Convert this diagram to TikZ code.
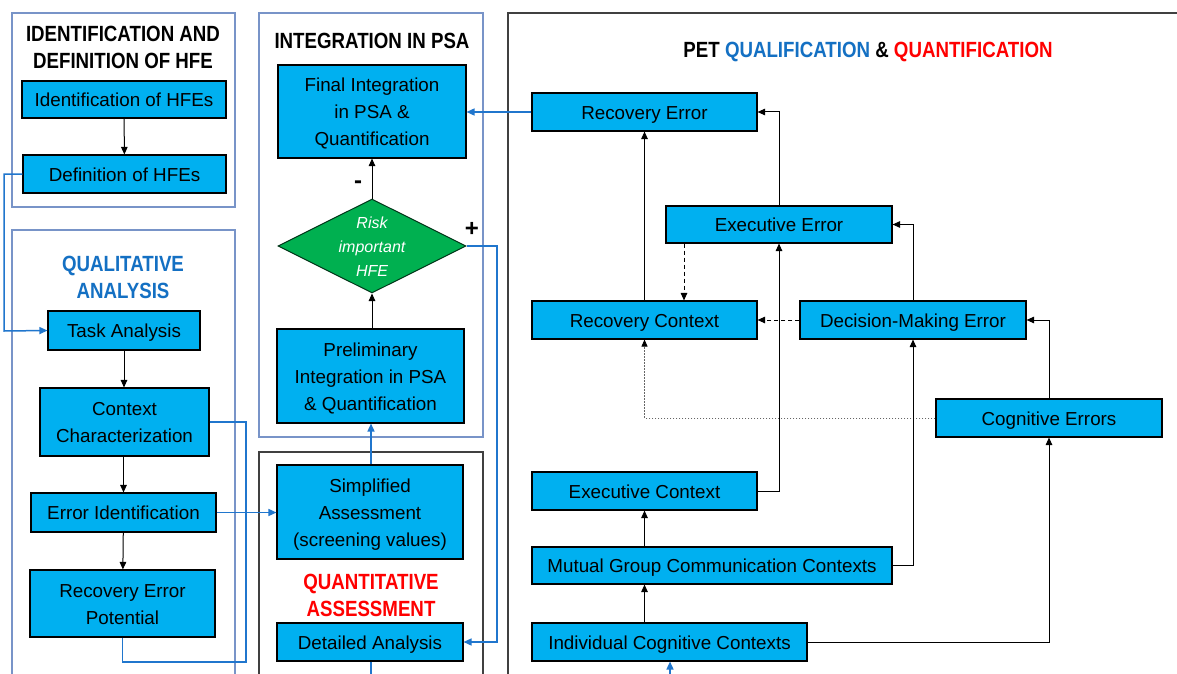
\documentclass[tikz,border=0pt]{standalone}
\usepackage{fontspec}
\setmainfont{Liberation Sans}
\newfontfamily\headfont{Liberation Sans}[FakeStretch=0.85]
\usetikzlibrary{shapes.geometric,arrows.meta}
\definecolor{boxfill}{RGB}{0,176,240}
\definecolor{framelight}{RGB}{120,148,200}
\definecolor{framedark}{RGB}{64,64,64}
\definecolor{linkblue}{RGB}{32,118,205}
\definecolor{headblue}{RGB}{20,112,195}
\definecolor{headred}{RGB}{255,0,0}
\definecolor{decgreen}{RGB}{0,176,80}
% centred block of lines, drawn slightly below its nominal position
\newcommand\tx[1]{\raisebox{-1.8pt}[\height][\depth]{\begin{tabular}{@{}c@{}}#1\end{tabular}}}
\begin{document}
\begin{tikzpicture}[x=1pt,y=-1pt,
  stepbox/.style={draw=black,line width=1.1pt,fill=boxfill,inner sep=0pt,
    font=\fontsize{18.8}{27.2}\selectfont},
  lightframe/.style={draw=framelight,line width=1.5pt},
  darkframe/.style={draw=framedark,line width=1.5pt},
  heading/.style={align=center,font=\headfont\bfseries\fontsize{22}{27}\selectfont},
  flow/.style={draw=black,line width=1pt,-{Triangle[length=7.5pt,width=6.5pt]}},
  bluelink/.style={draw=linkblue,line width=1.5pt},
  bluearrow/.style={bluelink,-{Triangle[length=8pt,width=7pt]}},
  dashflow/.style={flow,dash pattern=on 4pt off 3pt},
  dotflow/.style={draw=black!60,line width=0.8pt,dash pattern=on 1.5pt off 1.5pt,
    -{Triangle[length=7pt,width=6pt,fill=black,color=black]}},
  sign/.style={font=\bfseries\fontsize{24}{24}\selectfont}]
\useasboundingbox (0,0) rectangle (1177,674);
\clip (0,0) rectangle (1177,674);
\fill[white] (0,0) rectangle (1177,674);

% group frames
\draw[lightframe] (12,13) rectangle (235,207);
\draw[lightframe] (12,230) rectangle (235,720);
\draw[lightframe] (259,13) rectangle (483,437);
\draw[darkframe] (259,452) rectangle (483,720);
\draw[darkframe] (508,720) -- (508,13) -- (1190,13);

% headings
\node[heading] (hid) at (123,47) {IDENTIFICATION AND\\DEFINITION OF HFE};
\node[heading,text=headblue] (hqual) at (123,277) {QUALITATIVE\\ANALYSIS};
\node[heading] (hint) at (372,41) {INTEGRATION IN PSA};
\node[heading,text=headred] (hquant) at (371,595) {QUANTITATIVE\\ASSESSMENT};
\node[heading] (hpet) at (868,51.5) {PET {\color{headblue}QUALIFICATION} \& {\color{headred}QUANTIFICATION}};

% identification and definition
\node[stepbox,minimum width=204pt,minimum height=37pt] (idh) at (124,99.5) {\tx{Identification of HFEs}};
\node[stepbox,minimum width=203pt,minimum height=38pt] (defh) at (124.5,174) {\tx{Definition of HFEs}};

% qualitative analysis
\node[stepbox,minimum width=152pt,minimum height=39pt] (task) at (124,330.5) {\tx{Task Analysis}};
\node[stepbox,minimum width=169pt,minimum height=68pt] (ctx) at (124.5,422) {\tx{Context\\Characterization}};
\node[stepbox,minimum width=185pt,minimum height=39pt] (errid) at (123.5,512.5) {\tx{Error Identification}};
\node[stepbox,minimum width=185pt,minimum height=67pt] (rep) at (122.5,603.5) {\tx{Recovery Error\\Potential}};

% integration in PSA
\node[stepbox,minimum width=188pt,minimum height=93pt] (fin) at (372,111.5) {\tx{Final Integration\\in PSA \&\\Quantification}};
\node[diamond,draw=black!70!decgreen,line width=1pt,fill=decgreen,inner sep=0pt,
  minimum width=188pt,minimum height=94pt] (dia) at (372,246) {};
\node[text=white,inner sep=0pt,font=\itshape\fontsize{16}{24.2}\selectfont] (diatext) at (372,246) {\tx{Risk\\important\\HFE}};
\node[stepbox,minimum width=187pt,minimum height=94pt] (pre) at (370.5,376) {\tx{Preliminary\\Integration in PSA\\\& Quantification}};
\node[sign] (minus) at (358,185) {-};
\node[sign] (plus) at (472,229) {+};

% quantitative assessment
\node[stepbox,minimum width=186pt,minimum height=94pt] (simp) at (370,512) {\tx{Simplified\\Assessment\\(screening values)}};
\node[stepbox,minimum width=186pt,minimum height=38pt] (det) at (370,642) {\tx{Detailed Analysis}};

% PET qualification and quantification
\node[stepbox,minimum width=225pt,minimum height=38pt] (recerr) at (644.5,112) {\tx{Recovery Error}};
\node[stepbox,minimum width=226pt,minimum height=37pt] (exeerr) at (779,224.5) {\tx{Executive Error}};
\node[stepbox,minimum width=225pt,minimum height=38pt] (recctx) at (644.5,320) {\tx{Recovery Context}};
\node[stepbox,minimum width=226pt,minimum height=38pt] (dmerr) at (913,320) {\tx{Decision-Making Error}};
\node[stepbox,minimum width=226pt,minimum height=38pt] (cogerr) at (1049,418) {\tx{Cognitive Errors}};
\node[stepbox,minimum width=225pt,minimum height=38pt] (exectx) at (644.5,491) {\tx{Executive Context}};
\node[stepbox,minimum width=360pt,minimum height=37pt] (mgcc) at (712,565.5) {\tx{Mutual Group Communication Contexts}};
\node[stepbox,minimum width=275pt,minimum height=38pt] (icc) at (669.5,642) {\tx{Individual Cognitive Contexts}};

\coordinate (inflow) at (670,690);
\coordinate (outflow) at (371,690);

% black flow inside the groups
\draw[flow] (idh) -- (defh);
\draw[flow] (task) -- (task.south |- ctx.north);
\draw[flow] (ctx.south -| errid) -- (errid);
\draw[flow] (errid) -- (rep);
\draw[flow] (dia.north) -- (fin.south -| dia.north);
\draw[flow] (pre.north -| dia.south) -- (dia.south);

% blue links between the groups
\draw[bluearrow] (defh.west) -- (4,174) -- (4,331) -- (task.west);
\draw[bluelink] (ctx.east) -- (246,422) -- (246,662) -- (rep.south |- 0,662) -- (rep.south);
\draw[bluearrow] (errid.east) -- (simp.west |- errid.east);
\draw[bluearrow] (simp.north -| 371,0) -- (pre.south -| 371,0);
\draw[bluearrow] (dia.east) -- (497,246) -- (497,642) -- (det.east);
\draw[bluelink] (det.south -| outflow) -- (outflow);
\draw[bluearrow] (recerr.west) -- (fin.east |- recerr.west);
\draw[bluearrow] (inflow) -- (icc.south -| inflow);

% PET connections
\draw[flow] (recctx) -- (recerr);
\draw[flow] (exeerr.north) -- (exeerr.north |- recerr.east) -- (recerr.east);
\draw[dashflow] (exeerr.south -| 684,0) -- (recctx.north -| 684,0);
\draw[dashflow] (dmerr.west) -- (recctx.east);
\draw[flow] (dmerr.north) -- (dmerr.north |- exeerr.east) -- (exeerr.east);
\draw[flow] (cogerr.north) -- (cogerr.north |- dmerr.east) -- (dmerr.east);
\draw[dotflow] (cogerr.west) -- (recctx.south |- cogerr.west) -- (recctx.south);
\draw[flow] (exectx.east) -- (exeerr.south |- exectx.east) -- (exeerr.south);
\draw[flow] (mgcc.east) -- (dmerr.south |- mgcc.east) -- (dmerr.south);
\draw[flow] (icc.east) -- (cogerr.south |- icc.east) -- (cogerr.south);
\draw[flow] (mgcc.north -| exectx) -- (exectx);
\draw[flow] (icc.north -| exectx) -- (mgcc.south -| exectx);
\end{tikzpicture}
\end{document}
